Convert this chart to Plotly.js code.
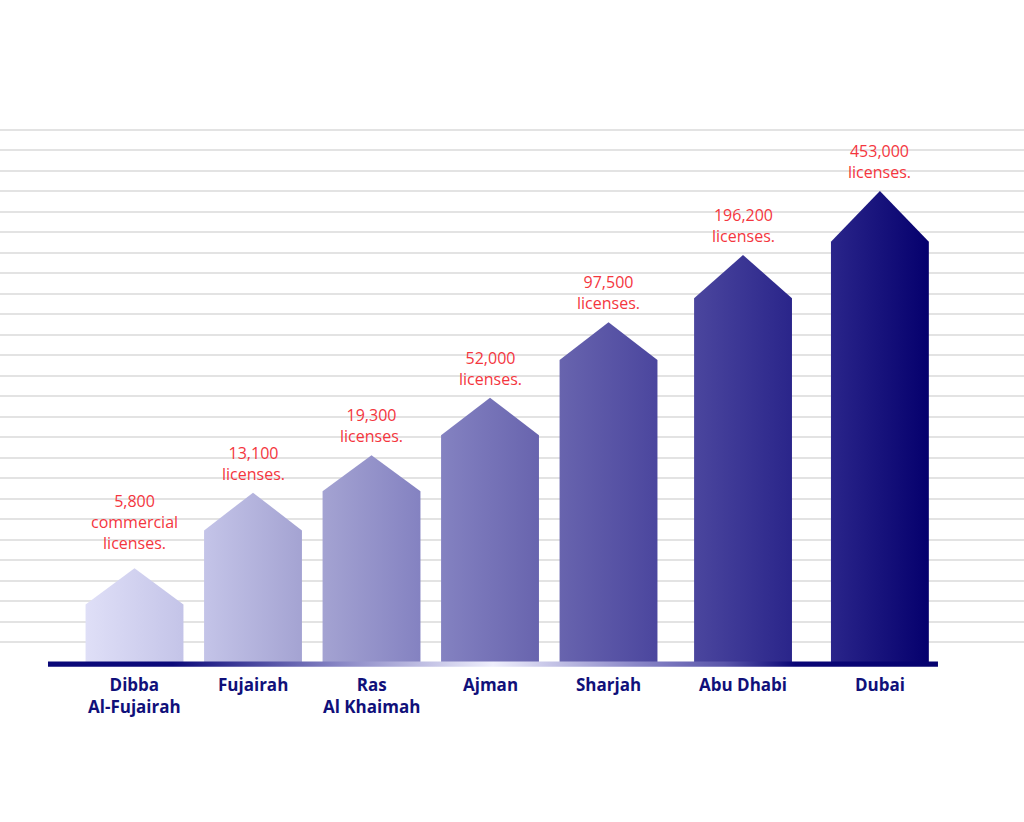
<!DOCTYPE html>
<html>
<head>
<meta charset="utf-8">
<script src="https://cdn.plot.ly/plotly-3.0.1.min.js"></script>
<style>html,body{margin:0;padding:0;background:#fff;}#chart{width:1024px;height:822px;}</style>
</head>
<body>
<div id="chart"></div>
<script>
// ---- data ----
const categories = ['Dibba<br>Al-Fujairah', 'Fujairah', 'Ras<br>Al Khaimah', 'Ajman', 'Sharjah', 'Abu Dhabi', 'Dubai'];
const licenses = [5800, 13100, 19300, 52000, 97500, 196200, 453000];
const licenseWords = ['commercial<br>licenses.', 'licenses.', 'licenses.', 'licenses.', 'licenses.', 'licenses.', 'licenses.'];
// visual bar height (wall + roof) in grid units, as drawn in the picture
const wallHeights = [2.85, 6.46, 8.37, 11.10, 14.76, 17.78, 20.53];
const roofHeights = [1.76, 1.84, 1.75, 1.82, 1.84, 2.10, 2.47];

// ---- layout constants ----
const slots = [0, 1, 2, 3, 4, 5.135, 6.29];
const halfW = 0.413;
const edgeColors = ['#dfdff7', '#c4c4e8', '#a4a3d2', '#8482c1', '#6864ae', '#4b469e', '#2a258a', '#05006d'];
const navy = '#10107a';
const red = '#f4363e';
const fontFam = '"Open Sans", Lato, sans-serif';

const traces = [];
categories.forEach((c, i) => {
  const x0 = slots[i] - halfW, x1 = slots[i] + halfW;
  const w = wallHeights[i], r = w + roofHeights[i];
  traces.push({
    type: 'scatter', mode: 'lines',
    x: [x0, x0, slots[i], x1, x1, x0],
    y: [0, w, r, w, 0, 0],
    fill: 'toself',
    line: {width: 0, color: 'rgba(0,0,0,0)'},
    fillgradient: {type: 'horizontal', colorscale: [[0, edgeColors[i]], [1, edgeColors[i + 1]]]},
    hoverinfo: 'skip', showlegend: false
  });
});

// baseline bar
const bx0 = -0.73, bx1 = 6.78;
traces.push({
  type: 'scatter', mode: 'lines',
  x: [bx0, bx0, bx1, bx1, bx0],
  y: [-0.18, 0.07, 0.07, -0.18, -0.18],
  fill: 'toself',
  line: {width: 0, color: 'rgba(0,0,0,0)'},
  fillgradient: {type: 'horizontal', colorscale: [
    [0, '#0a0878'], [0.14, '#0c0a7a'], [0.33, '#8a88c6'], [0.5, '#eeeefc'],
    [0.66, '#8a87c8'], [0.76, '#5a56aa'], [0.84, '#0a0676'], [1, '#06026f']]},
  hoverinfo: 'skip', showlegend: false
});

const annotations = [];
categories.forEach((c, i) => {
  annotations.push({
    x: slots[i], y: wallHeights[i] + roofHeights[i], xref: 'x', yref: 'y',
    text: licenses[i].toLocaleString('en-US') + '<br>' + licenseWords[i],
    showarrow: false, yanchor: 'bottom', yshift: i === 0 ? 12 : 6,
    font: {family: fontFam, size: 16, color: red}
  });
  annotations.push({
    x: slots[i], y: 0, xref: 'x', yref: 'y',
    text: '<b>' + c + '</b>',
    showarrow: false, yanchor: 'top', yshift: -8,
    font: {family: fontFam, size: 17, color: navy}
  });
});

const gridVals = [];
for (let k = 1; k <= 26; k++) gridVals.push(k);

const layout = {
  width: 1024, height: 822,
  margin: {l: 0, r: 0, t: 109, b: 77},
  paper_bgcolor: '#ffffff', plot_bgcolor: '#ffffff',
  showlegend: false,
  xaxis: {range: [-1.135, 7.506], showgrid: false, zeroline: false, showticklabels: false, showline: false, fixedrange: true},
  yaxis: {range: [-4, 27], tickmode: 'array', tickvals: gridVals, showgrid: true, gridcolor: '#e3e3e3', gridwidth: 2,
          zeroline: false, showticklabels: false, showline: false, fixedrange: true},
  annotations: annotations
};

Plotly.newPlot('chart', traces, layout, {displayModeBar: false, staticPlot: true});
</script>
</body>
</html>
